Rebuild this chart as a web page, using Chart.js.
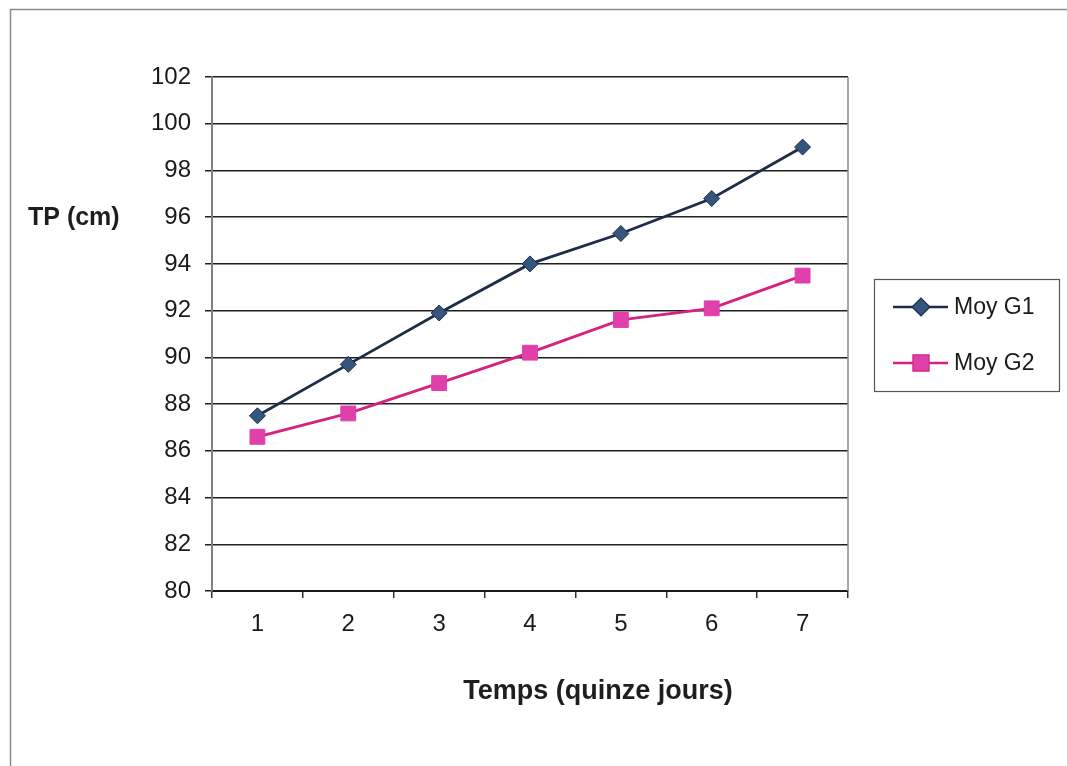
<!DOCTYPE html>
<html lang="fr">
<head>
<meta charset="UTF-8">
<title>TP (cm) - Moy G1 / Moy G2</title>
<script src="https://cdn.jsdelivr.net/npm/chart.js@4.4.1/dist/chart.umd.min.js"></script>
<style>
  html, body { margin: 0; padding: 0; background: #fff; }
  #wrap { position: relative; width: 1067px; height: 766px; }
</style>
</head>
<body>
<div id="wrap"><canvas id="chart"></canvas></div>
<script>
// Tour de poitrine moyen par groupe, mesuré tous les quinze jours
const periods = ['1', '2', '3', '4', '5', '6', '7'];
const moyG1 = [87.5, 89.7, 91.9, 94.0, 95.3, 96.8, 99.0];
const moyG2 = [86.6, 87.6, 88.9, 90.2, 91.6, 92.1, 93.5];
const yMin = 80;
const yMax = 102;
const yStep = 2;

const FONT = '"Liberation Sans", Arial, sans-serif';
const G1_LINE = '#1d2d48';
const G1_POINT = '#34557c';
const G2_LINE = '#d3237e';
const G2_POINT = '#e040aa';

// frame, plot border, axis titles and boxed legend
const decorations = {
  id: 'decorations',
  beforeDraw(chart) {
    const ctx = chart.ctx;
    ctx.save();
    ctx.strokeStyle = '#8c8c8c';
    ctx.lineWidth = 1.5;
    ctx.strokeRect(10.5, 9.5, 1080, 800);
    ctx.restore();
  },
  afterDatasetsDraw(chart) {
    const ctx = chart.ctx;
    const a = chart.chartArea;
    ctx.save();
    ctx.strokeStyle = '#8a8a8a';
    ctx.lineWidth = 1.5;
    ctx.beginPath();
    ctx.moveTo(a.right, a.top);
    ctx.lineTo(a.right, a.bottom);
    ctx.stroke();

    ctx.fillStyle = '#1e1e1e';
    ctx.textBaseline = 'middle';
    ctx.textAlign = 'left';
    ctx.font = 'bold 25px ' + FONT;
    ctx.fillText('TP (cm)', 28, 218);
    ctx.textAlign = 'center';
    ctx.font = 'bold 27px ' + FONT;
    ctx.fillText('Temps (quinze jours)', 598, 692);

    // legend box
    ctx.strokeStyle = '#555';
    ctx.lineWidth = 1.2;
    ctx.fillStyle = '#fff';
    ctx.fillRect(874, 279, 185, 112);
    ctx.strokeRect(874.5, 279.5, 185, 112);
    const rows = [307, 363];
    chart.data.datasets.forEach((ds, i) => {
      const y = rows[i];
      ctx.strokeStyle = ds.borderColor;
      ctx.lineWidth = 2.5;
      ctx.beginPath();
      ctx.moveTo(893, y);
      ctx.lineTo(948, y);
      ctx.stroke();
      Chart.helpers.drawPoint(ctx, {
        pointStyle: ds.pointStyle,
        radius: ds.pointRadius,
        borderWidth: 1
      }, 921, y);
      ctx.fillStyle = ds.pointBackgroundColor;
      ctx.strokeStyle = ds.pointBorderColor;
      ctx.fill();
      ctx.fillStyle = '#1a1a1a';
      ctx.font = '23px ' + FONT;
      ctx.textAlign = 'left';
      ctx.fillText(ds.label, 954, y + 1);
    });
    ctx.restore();
  }
};

new Chart(document.getElementById('chart'), {
  type: 'line',
  data: {
    labels: periods,
    datasets: [
      {
        label: 'Moy G1',
        data: moyG1,
        borderColor: G1_LINE,
        borderWidth: 2.8,
        pointStyle: 'rectRot',
        pointRadius: 8,
        pointBackgroundColor: G1_POINT,
        pointBorderColor: G1_LINE,
        pointBorderWidth: 1,
        tension: 0
      },
      {
        label: 'Moy G2',
        data: moyG2,
        borderColor: G2_LINE,
        borderWidth: 2.8,
        pointStyle: 'rect',
        pointRadius: 10.5,
        pointBackgroundColor: G2_POINT,
        pointBorderColor: G2_POINT,
        pointBorderWidth: 1,
        tension: 0
      }
    ]
  },
  options: {
    responsive: true,
    maintainAspectRatio: false,
    animation: false,
    layout: { padding: { left: 0, top: 77, right: 219, bottom: 0 } },
    plugins: {
      legend: { display: false },
      tooltip: { enabled: false }
    },
    scales: {
      x: {
        type: 'category',
        offset: true,
        grid: {
          offset: true,
          drawOnChartArea: false,
          drawTicks: true,
          tickLength: 7,
          color: '#333',
          lineWidth: 1.5
        },
        border: { display: true, color: '#1a1a1a', width: 2 },
        ticks: {
          color: '#1a1a1a',
          font: { family: FONT, size: 24 },
          padding: 12,
          maxRotation: 0
        },
        afterFit(scale) { scale.height = 175; }
      },
      y: {
        min: yMin,
        max: yMax,
        grid: {
          color: '#1f1f1f',
          lineWidth: 1.5,
          tickLength: 7
        },
        border: { display: true, color: '#808080', width: 2 },
        ticks: {
          stepSize: yStep,
          color: '#1a1a1a',
          font: { family: FONT, size: 24 },
          padding: 14
        },
        afterFit(scale) { scale.width = 212; }
      }
    }
  },
  plugins: [decorations]
});
</script>
</body>
</html>
